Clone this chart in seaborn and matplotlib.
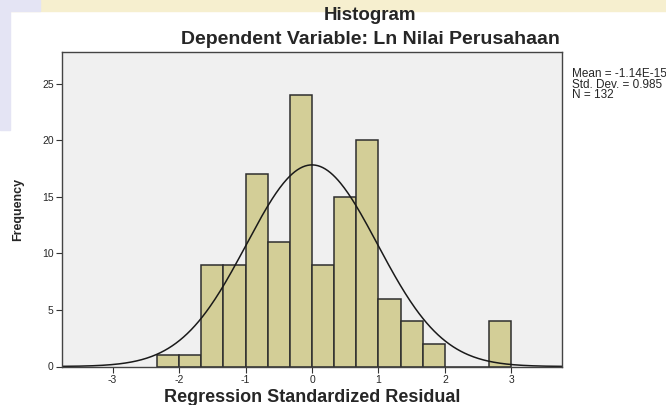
import numpy as np
import pandas as pd
import matplotlib
matplotlib.use("Agg")
import matplotlib.pyplot as plt
import seaborn as sns
from matplotlib.patches import Rectangle

# Histogram bins (width 1/3) and counts
bin_start = -7 / 3
bin_width = 1 / 3
counts = [1, 1, 9, 9, 17, 11, 24, 9, 15, 20, 6, 4, 2, 0, 0, 4]

# Summary stats shown in the SPSS legend
mean_val = -1.14e-15
std_val = 0.985
n_obs = 132

x_ticks = [-3, -2, -1, 0, 1, 2, 3]
y_ticks = [0, 5, 10, 15, 20, 25]

edges = [bin_start + bin_width * i for i in range(len(counts) + 1)]
centers = [(a + b) / 2 for a, b in zip(edges[:-1], edges[1:])]
df = pd.DataFrame({"resid": centers, "count": counts})

sns.set_style("white")
plt.rcParams["font.family"] = ["Liberation Sans", "DejaVu Sans"]

fig = plt.figure(figsize=(6.66, 4.05), dpi=100, facecolor="white")
# faded page background around the pasted chart
fig.patches.append(Rectangle((0, 394 / 405), 1, 11 / 405, transform=fig.transFigure,
                             color="#f6efcf", zorder=-10))
fig.patches.append(Rectangle((0, 394 / 405), 40 / 666, 11 / 405, transform=fig.transFigure,
                             color="#e4e4f4", zorder=-9))
fig.patches.append(Rectangle((0, 275 / 405), 10 / 666, 130 / 405, transform=fig.transFigure,
                             color="#e4e4f4", zorder=-10))

ax = fig.add_axes([62 / 666, 38.5 / 405, 500 / 666, 314.5 / 405])
ax.set_facecolor("#f0f0f0")

sns.histplot(data=df, x="resid", weights="count", bins=edges, ax=ax,
             color="#d3ce97", edgecolor="#2e2e2e", linewidth=1.1, alpha=1.0)

# fitted normal curve scaled to counts
xs = np.linspace(-3.8, 3.8, 400)
ys = n_obs * bin_width * np.exp(-0.5 * ((xs - mean_val) / std_val) ** 2) / (std_val * np.sqrt(2 * np.pi))
sns.lineplot(x=xs, y=ys, ax=ax, color="#1a1a1a", linewidth=1.1)

ax.set_xlim(-3.76, 3.76)
ax.set_ylim(0, 27.8)
ax.set_xticks(x_ticks)
ax.set_yticks(y_ticks)
ax.set_xticklabels([str(t) for t in x_ticks])
ax.tick_params(axis="both", direction="out", length=4, width=0.8, color="#333333",
               labelsize=7.5, pad=2, bottom=True, left=True)
for sp in ax.spines.values():
    sp.set_color("#444444")
    sp.set_linewidth(1.0)

ax.set_xlabel("Regression Standardized Residual", fontsize=13, fontweight="bold", labelpad=3)
ax.set_ylabel("Frequency", fontsize=9, fontweight="bold", labelpad=13)

fig.text(370 / 666, 1 - 16 / 405, "Histogram", ha="center", va="center",
         fontsize=13.5, fontweight="bold")
fig.text(370 / 666, 1 - 40 / 405, "Dependent Variable: Ln Nilai Perusahaan", ha="center",
         va="center", fontsize=14, fontweight="bold")
fig.text(572 / 666, 1 - 68 / 405,
         f"Mean = -1.14E-15\nStd. Dev. = {std_val}\nN = {n_obs}",
         ha="left", va="top", fontsize=8.5, linespacing=0.85)

fig.savefig("out.png", dpi=100)
